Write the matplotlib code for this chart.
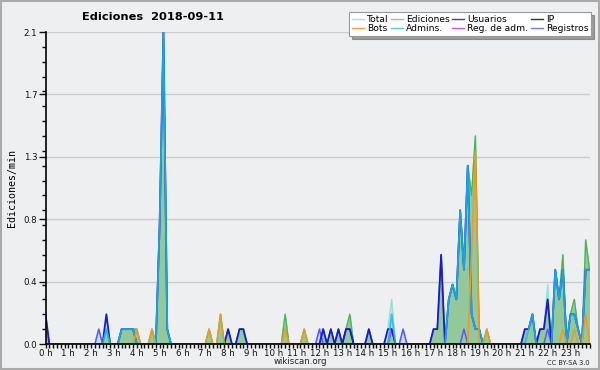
import matplotlib
matplotlib.use("Agg")
import matplotlib.pyplot as plt
from matplotlib.lines import Line2D
from matplotlib.patches import Rectangle
from matplotlib.ticker import MultipleLocator, FixedLocator, FormatStrFormatter
import numpy as np
import pandas as pd

# edits per minute in 10-minute bins, 2018-09-11 ; empty bins are left out
total = {"00:00": 0.2, "02:20": 0.1, "02:40": 0.2, "03:20": 0.1, "03:30": 0.1,
         "03:40": 0.1, "03:50": 0.1, "04:00": 0.1, "04:40": 0.1, "05:00": 0.8,
         "05:10": 2.1, "05:20": 0.1, "07:10": 0.1, "07:40": 0.2, "08:00": 0.1,
         "08:30": 0.1, "08:40": 0.1, "10:30": 0.2, "11:20": 0.1, "12:00": 0.1,
         "12:10": 0.1, "12:30": 0.1, "12:50": 0.1, "13:10": 0.1, "13:20": 0.2,
         "14:10": 0.1, "15:00": 0.1, "15:10": 0.3, "15:40": 0.1, "17:00": 0.1,
         "17:10": 0.1, "17:20": 0.6, "17:40": 0.3, "17:50": 0.4, "18:00": 0.3,
         "18:10": 0.9, "18:20": 0.5, "18:30": 1.2, "18:40": 1.0, "18:50": 1.4,
         "19:00": 0.1, "19:20": 0.1, "21:00": 0.1, "21:10": 0.1, "21:20": 0.2,
         "21:40": 0.1, "21:50": 0.1, "22:00": 0.4, "22:20": 0.5, "22:30": 0.3,
         "22:40": 0.6, "23:00": 0.2, "23:10": 0.3, "23:20": 0.1, "23:40": 0.7,
         "23:50": 0.5}
ediciones = {"00:00": 0.2, "02:40": 0.1, "03:20": 0.1, "03:30": 0.1, "03:40": 0.1,
             "03:50": 0.1, "04:00": 0.1, "04:40": 0.1, "05:00": 0.8, "05:10": 2.1,
             "05:20": 0.1, "07:10": 0.1, "07:40": 0.2, "08:00": 0.1, "08:30": 0.1,
             "08:40": 0.1, "10:30": 0.2, "11:20": 0.1, "12:10": 0.1, "12:30": 0.1,
             "12:50": 0.1, "13:10": 0.1, "13:20": 0.2, "14:10": 0.1, "15:10": 0.1,
             "17:00": 0.1, "17:10": 0.1, "17:20": 0.6, "17:40": 0.3, "17:50": 0.4,
             "18:00": 0.3, "18:10": 0.9, "18:20": 0.5, "18:30": 1.2, "18:40": 1.0,
             "18:50": 1.4, "19:00": 0.1, "19:20": 0.1, "21:00": 0.1, "21:10": 0.1,
             "21:20": 0.2, "21:40": 0.1, "21:50": 0.1, "22:00": 0.3, "22:20": 0.5,
             "22:30": 0.3, "22:40": 0.6, "23:00": 0.2, "23:10": 0.3, "23:20": 0.1,
             "23:40": 0.7, "23:50": 0.5}
usuarios = {"00:00": 0.2, "02:40": 0.2, "03:20": 0.1, "03:30": 0.1, "03:40": 0.1,
            "03:50": 0.1, "05:00": 0.8, "05:10": 2.1, "05:20": 0.1, "08:00": 0.1,
            "08:30": 0.1, "08:40": 0.1, "12:10": 0.1, "12:30": 0.1, "12:50": 0.1,
            "13:10": 0.1, "13:20": 0.1, "14:10": 0.1, "15:00": 0.1, "15:10": 0.1,
            "17:00": 0.1, "17:10": 0.1, "17:20": 0.6, "17:40": 0.3, "17:50": 0.4,
            "18:00": 0.3, "18:10": 0.9, "18:20": 0.5, "18:30": 1.2, "18:40": 0.2,
            "18:50": 0.1, "19:00": 0.1, "21:00": 0.1, "21:10": 0.1, "21:20": 0.2,
            "21:40": 0.1, "21:50": 0.1, "22:00": 0.3, "22:20": 0.5, "22:30": 0.3,
            "22:40": 0.5, "23:00": 0.2, "23:10": 0.2, "23:20": 0.1, "23:40": 0.5,
            "23:50": 0.5}
ip = {"13:10": 0.1, "13:20": 0.1}
bots = {"04:00": 0.1, "04:40": 0.1, "07:10": 0.1, "07:40": 0.2, "10:30": 0.1,
        "11:20": 0.1, "18:40": 0.6, "18:50": 1.3, "19:20": 0.1, "22:40": 0.1,
        "23:10": 0.1, "23:40": 0.2}
admins = {"02:40": 0.1, "03:20": 0.1, "03:30": 0.1, "03:40": 0.1, "03:50": 0.1,
          "05:00": 0.8, "05:10": 2.1, "05:20": 0.1, "15:10": 0.2, "17:40": 0.3,
          "17:50": 0.4, "18:00": 0.3, "18:10": 0.9, "18:20": 0.5, "18:30": 1.2,
          "18:40": 0.2, "18:50": 0.1, "19:00": 0.1, "21:10": 0.1, "21:20": 0.2,
          "22:20": 0.5, "22:30": 0.3, "22:40": 0.5, "23:00": 0.2, "23:10": 0.2,
          "23:20": 0.1, "23:40": 0.5, "23:50": 0.5}
reg_adm = {"15:10": 0.1}
registros = {"02:20": 0.1, "12:00": 0.1, "15:10": 0.1, "15:40": 0.1, "18:20": 0.1,
             "22:00": 0.1}

labels = ["Total", "Ediciones", "Usuarios", "IP", "Bots", "Admins.", "Reg. de adm.", "Registros"]
legend_colors = ["#a8dede", "#88cc88", "#3a3ad8", "#333333", "#f0a040", "#55c8dd", "#cc55dd", "#7777ee"]

slots = [f"{h:02d}:{m:02d}" for h in range(24) for m in range(0, 60, 10)]
hours = np.arange(len(slots)) / 6.0


def series(d):
    return pd.Series(d).reindex(slots, fill_value=0.0).values


df = pd.DataFrame({name: series(d) for name, d in zip(
    labels, [total, ediciones, usuarios, ip, bots, admins, reg_adm, registros])}, index=hours)

bg = "#eeeff0"
fig = plt.figure(figsize=(6, 3.7), dpi=100, facecolor=bg)
ax = fig.add_axes([45.5 / 600, 26 / 370, 544 / 600, 312 / 370])
ax.set_facecolor(bg)

x = df.index.values
ax.fill_between(x, df["Total"], color="#c4dcee", lw=0)
ax.fill_between(x, df["Ediciones"], color="#93c99a", lw=0)
ax.plot(x, df["Total"], color="#99dddd", lw=1.0)
ax.plot(x, df["Ediciones"], color="#4fb34f", lw=1.0)
ax.plot(x, df["IP"], color="#333333", lw=1.0)
ax.plot(x, df["Registros"], color="#5a5af0", lw=1.1)
ax.plot(x, df["Reg. de adm."], color="#bb44dd", lw=1.0)
ax.plot(x, df["Usuarios"], color="#1a1acc", lw=1.3)
ax.plot(x, df["Admins."], color="#1cbbe8", lw=1.3, alpha=0.85)
ax.plot(x, df["Bots"], color="#ee9922", lw=1.1)

ax.set_xlim(0, x[-1])
ax.set_ylim(0, 2.1)
ax.yaxis.set_major_locator(FixedLocator(np.linspace(0, 2.1, 6)))
ax.yaxis.set_major_formatter(FormatStrFormatter("%.1f"))
ax.yaxis.set_minor_locator(MultipleLocator(0.1))
ax.xaxis.set_major_locator(FixedLocator(range(24)))
ax.set_xticklabels([f"{h} h" for h in range(24)])
ax.xaxis.set_minor_locator(MultipleLocator(1 / 6))
ax.grid(axis="y", color="#cccccc", lw=1.0)
ax.set_axisbelow(True)
for s in ["top", "right"]:
    ax.spines[s].set_visible(False)
ax.spines["left"].set_linewidth(1.2)
ax.spines["bottom"].set_linewidth(1.2)
ax.tick_params(axis="y", which="major", labelsize=6.2, length=5, width=1, pad=1, colors="#111111")
ax.tick_params(axis="x", which="major", labelsize=6.2, length=3, width=1, pad=0.5, colors="#111111")
ax.tick_params(axis="both", which="minor", length=3, width=1)

ax.set_ylabel("Ediciones/min", fontsize=7.2, family="DejaVu Sans Mono", labelpad=5)

fig.text(0.255, 0.955, "Ediciones  2018-09-11", fontsize=8.2, fontweight="bold",
         ha="center", va="center")
fig.text(0.5, 0.022, "wikiscan.org", fontsize=6.2, ha="center", va="center", color="#222222")
fig.text(0.982, 0.02, "CC BY-SA 3.0", fontsize=4.8, ha="right", va="center", color="#222222")

handles = [Line2D([], [], color=c, lw=1) for c in legend_colors]
order = [0, 4, 1, 5, 2, 6, 3, 7]
leg = fig.legend([handles[i] for i in order], [labels[i] for i in order], ncol=4,
                 loc="upper right", bbox_to_anchor=(0.985, 0.967), fontsize=6.6,
                 frameon=True, fancybox=False, shadow=True, handlelength=1.3,
                 handletextpad=0.35, columnspacing=0.25, labelspacing=0.05,
                 borderpad=0.3, borderaxespad=0)
leg.get_frame().set_edgecolor("#999999")
leg.get_frame().set_linewidth(0.8)

fig.patches.append(Rectangle((0.001, 0.002), 0.997, 0.996, transform=fig.transFigure,
                             fill=False, edgecolor="#aaaaaa", lw=1.5))

fig.savefig("out.png", dpi=100, facecolor=bg)
